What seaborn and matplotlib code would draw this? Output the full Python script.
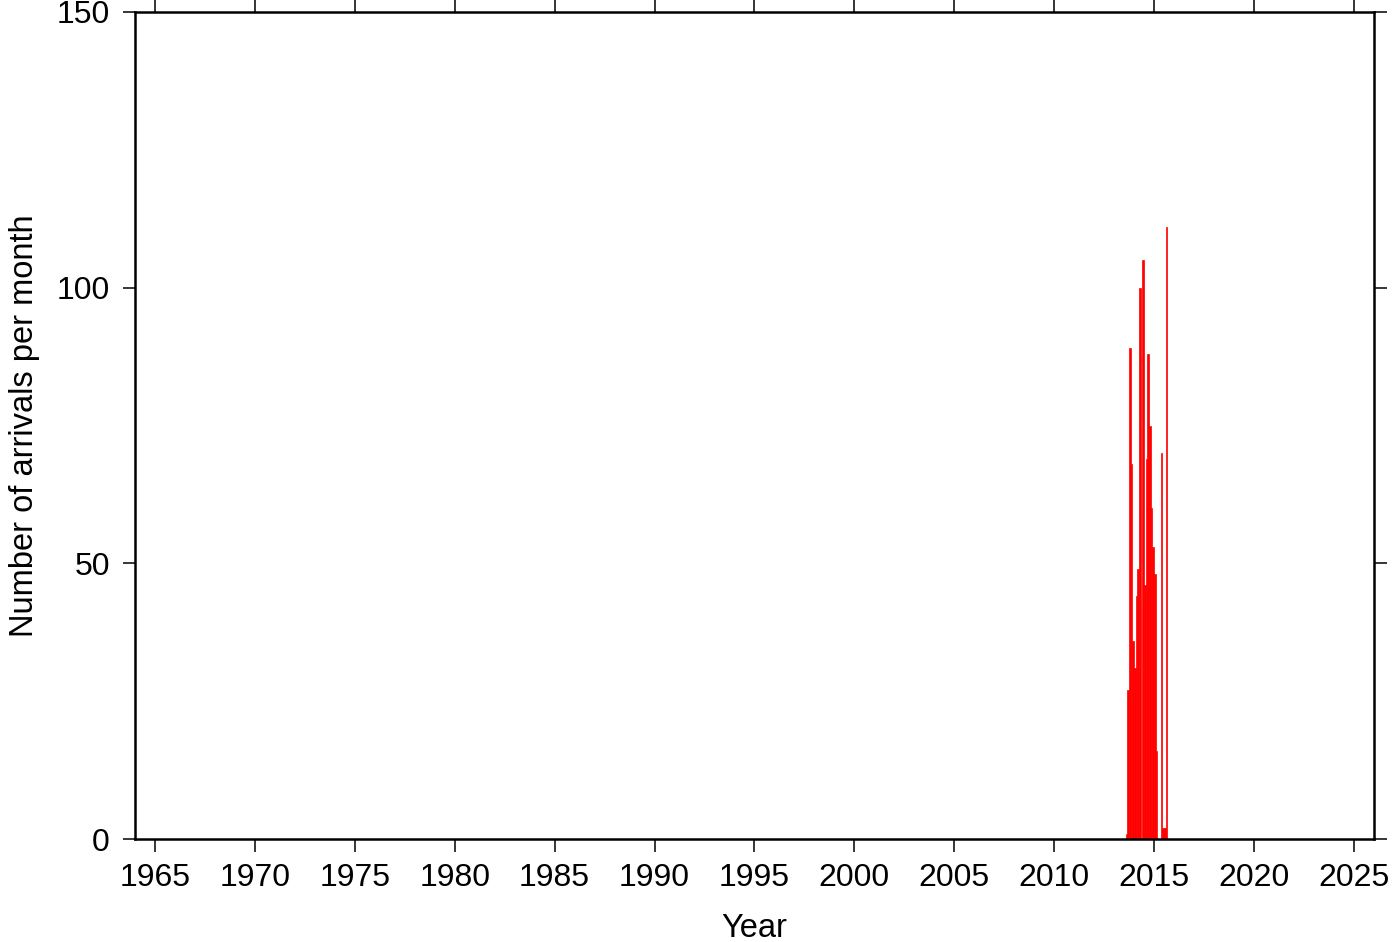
import numpy as np
import pandas as pd
import matplotlib
matplotlib.use("Agg")
import matplotlib.pyplot as plt
import seaborn as sns

# Monthly arrivals, Aug 2013 .. Aug 2015
start_year = 2013
start_month = 8  # August
counts = [1, 27, 89, 68, 36, 31, 44, 49, 100, 0, 105, 46, 69, 88, 75, 60,
          53, 48, 16, 0, 0, 70, 2, 2, 111]
x_ticks = [1965, 1970, 1975, 1980, 1985, 1990, 1995, 2000, 2005, 2010,
           2015, 2020, 2025]
y_ticks = [0, 50, 100, 150]

months = np.arange(len(counts)) + (start_month - 1)
dec_year = start_year + months / 12.0 + 1 / 24.0
df = pd.DataFrame({"date": dec_year, "count": counts})

sns.set_theme(style="ticks")
plt.rcParams["font.family"] = ["Liberation Sans", "DejaVu Sans"]
plt.rcParams["text.color"] = "black"
plt.rcParams["axes.labelcolor"] = "black"
plt.rcParams["xtick.color"] = "black"
plt.rcParams["ytick.color"] = "black"

fig = plt.figure(figsize=(14, 9.42), dpi=100)
ax = fig.add_axes([0.0964, 0.1093, 0.985 - 0.0964 - 0.0036, 0.9873 - 0.1093])

sns.histplot(data=df, x="date", weights="count", binwidth=1 / 12.0,
             binrange=(1964, 2026), ax=ax,
             color="#ff0000", edgecolor="#ff0000", linewidth=0.5,
             alpha=1.0, element="bars")

ax.set_xlim(1964, 2026)
ax.set_ylim(0, 150)
ax.set_xticks(x_ticks)
ax.set_yticks(y_ticks)
ax.set_xlabel("Year", fontsize=23.5, labelpad=15, color="black")
ax.set_ylabel("Number of arrivals per month", fontsize=23.5, labelpad=12,
              color="black")
ax.tick_params(axis="both", which="major", direction="out", length=9,
               width=1.1, labelsize=23, color="black", labelcolor="black",
               top=True, right=True, labeltop=False, labelright=False)
ax.tick_params(axis="y", pad=9)
ax.tick_params(axis="x", pad=8)
for s in ax.spines.values():
    s.set_visible(True)
    s.set_linewidth(1.8)
    s.set_color("black")
ax.grid(False)

fig.savefig("out.png", dpi=100)
